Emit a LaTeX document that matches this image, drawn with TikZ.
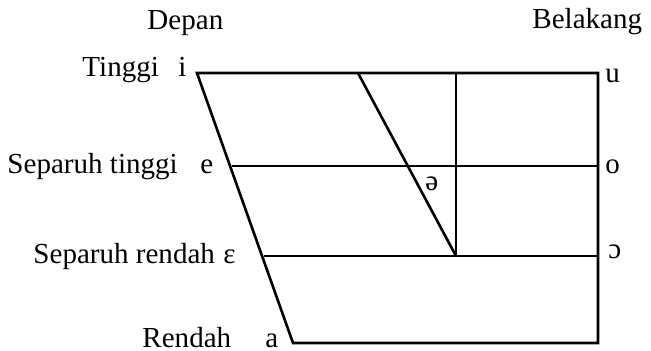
\documentclass[tikz,border=0pt]{standalone}
\usepackage{fontspec}
\setmainfont{Liberation Serif}
\usepackage{tikz}
\usetikzlibrary{positioning}

\begin{document}
\begin{tikzpicture}[
    x=0.42pt, y=-0.42pt,
    lbl/.style={anchor=base west, inner sep=0pt, font=\fontsize{12.2}{14}\selectfont},
    grid/.style={line width=1.1pt, line join=miter},
  ]
    \useasboundingbox (0,0) rectangle (651,351);
    % corners of the vowel chart
    \coordinate (hiF)  at (197,73);
    \coordinate (hiB)  at (598,73);
    \coordinate (mhF)  at (232,166);
    \coordinate (mhB)  at (598,166);
    \coordinate (mlF)  at (264,256);
    \coordinate (mlB)  at (598,256);
    \coordinate (loF)  at (293,343);
    \coordinate (loB)  at (598,343);
    \coordinate (cenT) at (456,73);
    \coordinate (cenB) at (456,256);
    \coordinate (diaT) at (358,73);

    \draw[grid] (hiF) -- (loF) -- (loB) -- (hiB) -- cycle;
    \draw[grid] (mhF) -- (mhB);
    \draw[grid] (mlF) -- (mlB);
    \draw[grid] (cenT) -- (cenB);
    \draw[grid] (diaT) -- (cenB);

    % headings
    \node[lbl] (depan) at (147,29) {Depan};
    \node[lbl] (belakang) at (532,28) {Belakang};
    % heights
    \node[lbl] (tinggi) at (82,76) {Tinggi};
    \node[lbl] (stinggi) at (7,173) {Separuh tinggi};
    \node[lbl] (srendah) at (33,263) {Separuh rendah};
    \node[lbl] (rendah) at (142,347) {Rendah};
    % vowels
    \node[lbl] (vi) at (178,76) {i};
    \node[lbl] (ve) at (200,173) {e};
    \node[lbl] (veps) at (223,263) {ɛ};
    \node[lbl] (va) at (265,347) {a};
    \node[lbl] (vu) at (605,82) {u};
    \node[lbl] (vo) at (605,173) {o};
    \node[lbl] (vopen) at (608,258) {ɔ};
    \node[lbl] (vschwa) at (425,190) {ə};
  \end{tikzpicture}
\end{document}
